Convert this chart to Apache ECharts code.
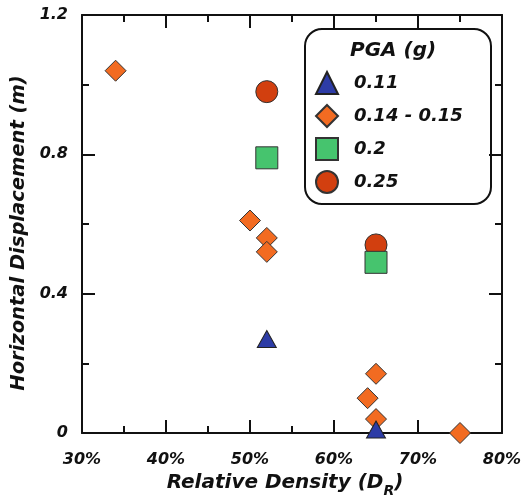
<!DOCTYPE html>
<html>
<head>
<meta charset="utf-8">
<script src="https://cdn.jsdelivr.net/npm/echarts@6/dist/echarts.min.js"></script>
<style>
html,body{margin:0;padding:0;background:#fff;}
#c{width:525px;height:497px;}
</style>
</head>
<body>
<div id="c"></div>
<script>
// ---- data ----
const xTicks = [30, 40, 50, 60, 70, 80];           // Relative density (%)
const yTicks = [0, 0.4, 0.8, 1.2];                 // Horizontal displacement (m)
const seriesNames = ['0.11', '0.14 - 0.15', '0.2', '0.25'];
const pga011 = [[52, 0.27], [65, 0.01]];
const pga014 = [[34, 1.04], [50, 0.61], [52, 0.56], [52, 0.52], [65, 0.17], [64, 0.10], [65, 0.04], [75, 0.00]];
const pga020 = [[52, 0.79], [65, 0.49]];
const pga025 = [[52, 0.98], [65, 0.54]];

const FONT = 'DejaVu Sans';
const AX = '#111';

const chart = echarts.init(document.getElementById('c'), null, {renderer: 'canvas'});

const baseAxis = {
  axisLine: {show: true, onZero: false, lineStyle: {color: AX, width: 2}},
  axisTick: {show: true, inside: true, length: 13, lineStyle: {color: AX, width: 2}},
  minorTick: {show: true, splitNumber: 2, length: 7, lineStyle: {color: AX, width: 2}},
  splitLine: {show: false},
  minorSplitLine: {show: false}
};

const labelStyle = {fontFamily: FONT, fontWeight: 'bold', fontStyle: 'italic', fontSize: 16, color: '#111'};

const option = {
  backgroundColor: '#fff',
  animation: false,
  grid: {left: 82, right: 23, top: 15, bottom: 64, containLabel: false, outerBoundsMode: 'none'},
  xAxis: [
    Object.assign({}, baseAxis, {
      type: 'value', position: 'bottom', min: xTicks[0], max: xTicks[xTicks.length - 1], interval: 10,
      axisLabel: Object.assign({}, labelStyle, {margin: 19, formatter: v => v + '%'}),
      name: '{n|Relative Density (D}{s|R}{n|)}',
      nameLocation: 'middle', nameGap: 32,
      nameTextStyle: {
        padding: [0, 14, 0, 0],
        rich: {
          n: {fontFamily: FONT, fontWeight: 'bold', fontStyle: 'italic', fontSize: 20, color: '#111', lineHeight: 22},
          s: {fontFamily: FONT, fontWeight: 'bold', fontStyle: 'italic', fontSize: 14, color: '#111', lineHeight: 22, verticalAlign: 'bottom', padding: [0, 0, -4, 0]}
        }
      }
    }),
    Object.assign({}, baseAxis, {
      type: 'value', position: 'top', min: xTicks[0], max: xTicks[xTicks.length - 1], interval: 10,
      axisLabel: {show: false}
    })
  ],
  yAxis: [
    Object.assign({}, baseAxis, {
      type: 'value', position: 'left', min: yTicks[0], max: yTicks[yTicks.length - 1], interval: 0.4,
      axisLabel: Object.assign({}, labelStyle, {margin: 14, formatter: v => (v === 0 ? '0' : v.toFixed(1))}),
      name: 'Horizontal Displacement (m)',
      nameLocation: 'middle', nameGap: 42, nameRotate: 90,
      nameTextStyle: {fontFamily: FONT, fontWeight: 'bold', fontStyle: 'italic', fontSize: 19.5, color: '#111', padding: [0, 18, 0, 0]}
    }),
    Object.assign({}, baseAxis, {
      type: 'value', position: 'right', min: yTicks[0], max: yTicks[yTicks.length - 1], interval: 0.4,
      axisLabel: {show: false}
    })
  ],
  legend: {
    orient: 'vertical',
    left: 315, top: 71, padding: 0,
    itemWidth: 22, itemHeight: 22, itemGap: 9,
    data: seriesNames,
    textStyle: {fontFamily: FONT, fontWeight: 'bold', fontStyle: 'italic', fontSize: 18, color: '#111', padding: [0, 0, 0, 11]}
  },
  graphic: [
    {type: 'rect', left: 304, top: 28, z: 0,
      shape: {width: 186, height: 175, r: 17},
      style: {fill: '#fff', stroke: '#111', lineWidth: 2}},
    {type: 'text', left: 350, top: 41, z: 1,
      style: {text: 'PGA (g)', fontFamily: FONT, fontWeight: 'bold', fontStyle: 'italic', fontSize: 20, fill: '#111'}}
  ],
  series: [
    {name: seriesNames[0], type: 'scatter', data: pga011, symbol: 'triangle', symbolSize: [19, 17], z: 5,
      itemStyle: {color: '#2D3CA6', borderColor: '#222', borderWidth: 1, opacity: 1}},
    {name: seriesNames[1], type: 'scatter', data: pga014, symbol: 'diamond', symbolSize: 21, z: 2,
      itemStyle: {color: '#F26B21', borderColor: '#333', borderWidth: 1, opacity: 1}},
    {name: seriesNames[2], type: 'scatter', data: pga020, symbol: 'rect', symbolSize: 22, z: 4,
      itemStyle: {color: '#46C46E', borderColor: '#333', borderWidth: 1, opacity: 1}},
    {name: seriesNames[3], type: 'scatter', data: pga025, symbol: 'circle', symbolSize: 22, z: 3,
      itemStyle: {color: '#D23F0F', borderColor: '#333', borderWidth: 1, opacity: 1}}
  ]
};

chart.setOption(option);
</script>
</body>
</html>
